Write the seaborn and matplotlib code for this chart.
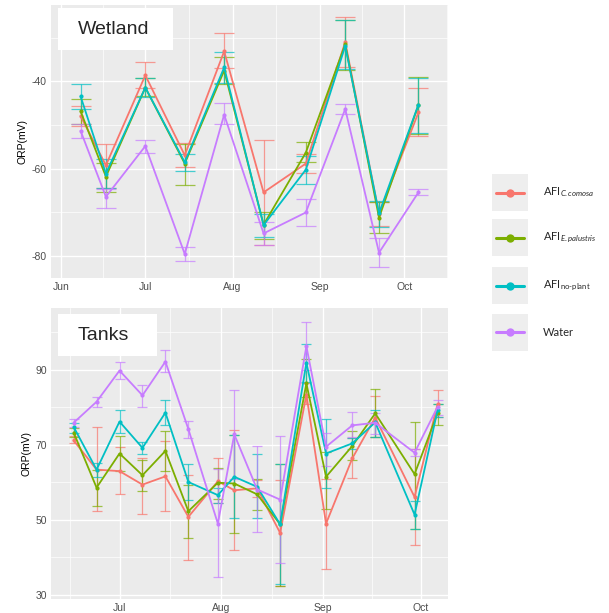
import numpy as np
import pandas as pd
import matplotlib
matplotlib.use("Agg")
import matplotlib.pyplot as plt
from matplotlib.patches import Rectangle
from matplotlib.lines import Line2D
import seaborn as sns

# ---------------- data ----------------
groups = ["AFI_C", "AFI_E", "AFI_N", "Water"]
group_labels = [r"AFI$_{\it C.comosa}$", r"AFI$_{\it E.palustris}$", r"AFI$_{\mathrm{no\text{-}plant}}$", "Water"]
colors = ["#F8766D", "#7CAE00", "#00BFC4", "#C77CFF"]

month_days = [0, 30, 61, 92, 122]          # days since 1 June
month_labels = ["Jun", "Jul", "Aug", "Sep", "Oct"]

# Wetland (days since 1 June)
wet_days = [7, 16, 30, 44, 58, 72, 87, 101, 113, 127]
wet_c = [-47.9, -59.2, -38.6, -56.9, -33.1, -65.4, -58.8, -31.0, -70.3, -47.1]
wet_c_lo = [-50.3, -64.4, -41.5, -59.5, -37.0, -77.5, -61.0, -36.6, -73.2, -52.6]
wet_c_hi = [-45.7, -54.4, -35.6, -54.2, -29.0, -53.3, -56.7, -25.3, -67.5, -41.4]
wet_e = [-46.8, -61.8, -41.4, -58.8, -37.5, -72.8, -56.3, -31.5, -71.2, -45.4]
wet_e_lo = [-49.7, -65.4, -43.4, -63.6, -40.5, -76.1, -58.5, -37.4, -74.7, -52.0]
wet_e_hi = [-44.1, -58.6, -39.2, -54.3, -34.5, -69.8, -53.9, -25.9, -67.5, -38.9]
wet_n = [-43.4, -61.1, -41.4, -58.5, -36.8, -72.9, -60.2, -31.9, -70.2, -45.3]
wet_n_lo = [-46.2, -64.4, -43.6, -60.4, -40.3, -75.7, -63.4, -37.2, -73.4, -51.8]
wet_n_hi = [-40.5, -57.8, -39.2, -56.7, -33.3, -70.3, -57.0, -25.9, -67.3, -39.1]
wet_w = [-51.3, -66.4, -54.8, -79.5, -47.6, -74.8, -70.0, -46.3, -79.2, -65.4]
wet_w_lo = [-52.9, -69.0, -56.3, -81.1, -49.7, -77.4, -73.1, -47.4, -82.5, -66.0]
wet_w_hi = [-49.8, -64.6, -53.5, -78.0, -44.9, -72.2, -67.0, -45.1, -75.9, -64.6]

# Tanks (days since 1 June)
tank_days = [16, 23, 30, 37, 44, 51, 60, 65, 72, 79, 87, 93, 101, 108, 120, 127]
tank_c = [71.2, 63.4, 63.0, 59.4, 61.6, 50.8, 60.3, 57.9, 58.4, 46.5, 83.4, 49.0, 66.4, 77.3, 56.1, 80.8]
tank_c_lo = [70.4, 52.3, 57.0, 51.7, 52.3, 39.2, 54.4, 41.9, 56.1, 32.4, 80.8, 37.0, 61.3, 72.1, 43.2, 77.5]
tank_c_hi = [72.3, 74.7, 69.5, 66.6, 71.0, 62.1, 66.4, 74.1, 60.6, 60.6, 86.4, 61.0, 71.7, 83.1, 69.0, 84.6]
tank_e = [73.3, 58.6, 67.7, 61.9, 68.4, 52.3, 59.9, 59.7, 56.8, 48.8, 86.4, 61.5, 69.7, 78.4, 62.2, 78.4]
tank_e_lo = [72.1, 53.7, 63.0, 57.6, 63.1, 45.1, 55.7, 46.4, 52.6, 32.4, 82.8, 52.8, 66.1, 72.1, 47.7, 75.2]
tank_e_hi = [74.4, 63.4, 72.3, 66.1, 73.6, 59.4, 63.9, 72.6, 60.8, 65.0, 92.8, 68.1, 73.6, 85.0, 76.1, 81.0]
tank_n = [74.8, 63.4, 76.2, 69.2, 78.6, 60.1, 56.6, 61.5, 58.8, 48.8, 91.9, 67.7, 70.4, 76.0, 51.4, 79.2]
tank_n_lo = [73.2, 61.5, 73.2, 67.7, 75.2, 55.4, 54.5, 50.4, 50.4, 33.0, 86.8, 58.4, 68.8, 72.1, 47.5, 77.5]
tank_n_hi = [75.7, 65.2, 79.2, 70.8, 81.9, 64.8, 58.5, 72.6, 67.5, 65.0, 97.0, 77.0, 71.7, 79.2, 55.0, 81.0]
tank_w = [75.9, 81.5, 89.8, 83.2, 92.2, 74.2, 49.0, 72.8, 58.1, 55.4, 96.3, 69.5, 75.2, 75.9, 67.9, 80.1]
tank_w_lo = [74.8, 80.1, 87.5, 80.1, 89.3, 71.9, 34.8, 61.0, 46.7, 38.5, 89.9, 64.4, 72.0, 73.0, 67.0, 77.9]
tank_w_hi = [77.0, 82.8, 92.0, 86.1, 95.2, 76.4, 63.5, 84.5, 69.6, 72.3, 102.8, 73.3, 78.8, 78.5, 68.8, 81.9]


def make_df(days, series):
    rows = []
    for g, (v, lo, hi) in zip(groups, series):
        for d, a, b, c in zip(days, v, lo, hi):
            rows.append({"day": d, "orp": a, "lo": b, "hi": c, "group": g})
    return pd.DataFrame(rows)


wet_df = make_df(wet_days, [(wet_c, wet_c_lo, wet_c_hi), (wet_e, wet_e_lo, wet_e_hi),
                            (wet_n, wet_n_lo, wet_n_hi), (wet_w, wet_w_lo, wet_w_hi)])
tank_df = make_df(tank_days, [(tank_c, tank_c_lo, tank_c_hi), (tank_e, tank_e_lo, tank_e_hi),
                              (tank_n, tank_n_lo, tank_n_hi), (tank_w, tank_w_lo, tank_w_hi)])

# ---------------- style ----------------
sns.set_style("darkgrid", {"axes.facecolor": "#EBEBEB", "grid.color": "white"})
plt.rcParams["font.family"] = ["Liberation Sans", "DejaVu Sans"]
plt.rcParams["axes.unicode_minus"] = False
plt.rcParams["mathtext.fontset"] = "custom"
plt.rcParams["mathtext.rm"] = "Lato"
plt.rcParams["mathtext.it"] = "Lato:italic"

fig = plt.figure(figsize=(6.09, 6.13), dpi=100)
ax_top = fig.add_axes([51 / 609, 1 - 278 / 613, 397 / 609, 273 / 613])
ax_bot = fig.add_axes([51 / 609, 1 - 599 / 613, 397 / 609, 291 / 613])

palette = dict(zip(groups, colors))


def draw(ax, df, capsize):
    for g in groups:
        sub = df[df.group == g]
        ax.errorbar(sub.day, sub.orp, yerr=[sub.orp - sub.lo, sub.hi - sub.orp],
                    fmt="none", ecolor=palette[g], elinewidth=0.9, capsize=capsize,
                    capthick=0.9, alpha=0.7, zorder=2)
    sns.lineplot(data=df, x="day", y="orp", hue="group", hue_order=groups,
                 palette=palette, marker="o", markersize=3, markeredgewidth=0,
                 linewidth=1.3, legend=False, ax=ax, zorder=3)


draw(ax_top, wet_df, 7.5)
draw(ax_bot, tank_df, 3.5)


def style_axes(ax, xlim, ylim, yticks, xt, xl):
    ax.set_xticks(xt)
    ax.set_xticklabels(xl)
    ax.set_yticks(yticks)
    mids_x = [(a + b) / 2 for a, b in zip(month_days[:-1], month_days[1:])] + [137]
    ax.set_xticks(mids_x, minor=True)
    step = yticks[1] - yticks[0]
    mids_y = [y + step / 2 for y in yticks] + [yticks[0] - step / 2]
    ax.set_yticks(mids_y, minor=True)
    ax.set_xlim(*xlim)
    ax.set_ylim(*ylim)
    ax.grid(which="major", color="white", linewidth=1.0)
    ax.grid(which="minor", color="white", linewidth=0.5)
    ax.tick_params(which="minor", length=0)
    ax.tick_params(which="major", length=2, color="#4D4D4D", labelsize=7.5,
                   labelcolor="#4D4D4D", pad=1)
    ax.set_xlabel("")
    ax.set_ylabel("ORP(mV)", fontsize=7.5, color="black", labelpad=3)
    for s in ax.spines.values():
        s.set_visible(False)


style_axes(ax_top, (-3.5, 137.5), (-85, -22.5), [-80, -60, -40], month_days, month_labels)
style_axes(ax_bot, (9.1, 130.2), (28.9, 106.5), [30, 50, 70, 90], month_days[1:], month_labels[1:])

# panel labels
for txt, (x0, y0, x1, y1) in [("Wetland", (58, 8, 173, 50)),
                              ("Tanks", (58, 314, 157, 356))]:
    fig.patches.append(Rectangle((x0 / 609, 1 - y1 / 613), (x1 - x0) / 609, (y1 - y0) / 613,
                                 transform=fig.transFigure, facecolor="white",
                                 edgecolor="none", zorder=5))
    fig.text((x0 + 20) / 609, 1 - ((y0 + y1) / 2) / 613, txt, fontsize=14,
             va="center", ha="left", zorder=6, family="Liberation Sans")

# legend
centers = [192.5, 237.5, 285.5, 332]
for lab, col, cy in zip(group_labels, colors, centers):
    fig.patches.append(Rectangle((492 / 609, 1 - (cy + 18.5) / 613), 36 / 609, 37 / 613,
                                 transform=fig.transFigure, facecolor="#EEEEEE",
                                 edgecolor="none"))
    fig.lines.append(Line2D([496 / 609, 524 / 609], [1 - cy / 613, 1 - cy / 613],
                            transform=fig.transFigure, color=col, linewidth=2.2))
    fig.lines.append(Line2D([510 / 609], [1 - cy / 613], transform=fig.transFigure,
                            color=col, marker="o", markersize=6, markeredgewidth=0))
    fig.text(543 / 609, 1 - cy / 613, lab, fontsize=8, va="center", ha="left",
             family=["Lato", "DejaVu Sans"])

fig.savefig("out.png", dpi=100, facecolor="white")
